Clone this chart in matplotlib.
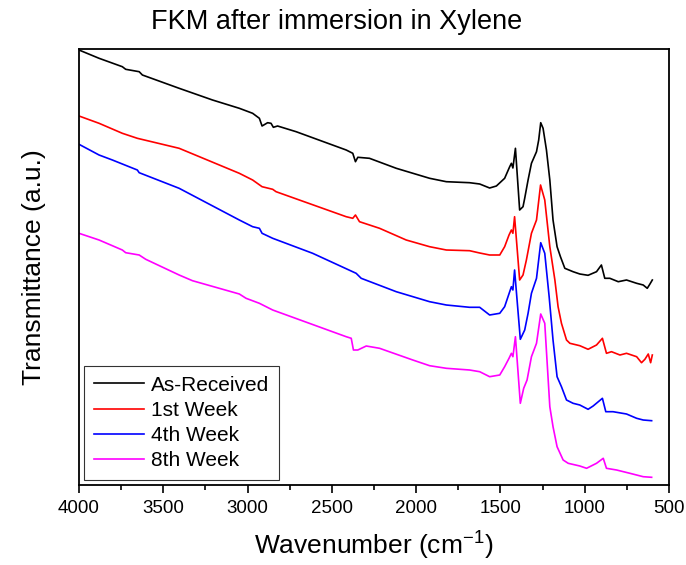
import numpy as np
import matplotlib
matplotlib.use("Agg")
import matplotlib.pyplot as plt
from matplotlib.ticker import MultipleLocator

plt.rcParams['font.family'] = ['Liberation Sans', 'DejaVu Sans']
plt.rcParams['mathtext.default'] = 'regular'

# wavenumber (cm-1) and transmittance (a.u.)
wn_received = [4000, 3881, 3743, 3723, 3643, 3624, 3406, 3208, 3049, 2970, 2930, 2914, 2881, 2861,
               2847, 2822, 2712, 2415, 2376, 2360, 2346, 2277, 2118, 1920, 1821, 1683, 1623, 1564,
               1524, 1475, 1445, 1435, 1426, 1411, 1386, 1366, 1356, 1336, 1316, 1286, 1273, 1261,
               1247, 1227, 1207, 1188, 1164, 1144, 1118, 1069, 1029, 980, 930, 901, 881, 851, 801,
               752, 692, 653, 629, 613, 599]
t_received = [435, 426.7, 418.3, 415.7, 413.3, 410, 396.7, 385, 376.7, 371.7, 366.7, 359, 362.3, 361.7,
              357.7, 359, 353.3, 335, 331.7, 323.3, 327.7, 326.7, 316.7, 306.7, 303.3, 302.3, 301, 297,
              299, 306.7, 318.3, 321.7, 317, 336.7, 275, 278.3, 286.7, 305, 321.7, 333.3, 345, 362.3,
              356.7, 335, 305, 265, 238.3, 228.3, 216.7, 213.3, 211, 209.7, 213.3, 220, 206.7, 206.7,
              203.3, 205, 201.7, 200, 196.7, 201, 205]

wn_week1 = [4000, 3881, 3743, 3654, 3406, 3049, 2970, 2914, 2851, 2831, 2415, 2376, 2360, 2336, 2217,
            2059, 1920, 1821, 1683, 1623, 1564, 1504, 1475, 1449, 1435, 1426, 1416, 1386, 1366, 1346,
            1316, 1286, 1262, 1237, 1207, 1177, 1158, 1138, 1108, 1088, 1029, 980, 930, 895, 871, 841,
            791, 752, 692, 663, 643, 623, 609, 599]
t_week1 = [369, 361.7, 351.7, 346.7, 336.7, 311.7, 305, 298.3, 295.7, 293.3, 268.3, 266.7, 270, 263.3,
           256.7, 245, 238.3, 235, 234.3, 232, 230, 230, 238.3, 250, 255, 251.7, 268.3, 205, 210, 225,
           251.7, 265, 300, 285, 238.3, 205, 178.3, 161.7, 145, 141.7, 139.3, 135.7, 140, 146.7, 131.7,
           133.3, 130, 131.7, 128.3, 122.3, 125.7, 131, 122.3, 130]

wn_week4 = [4000, 3881, 3802, 3703, 3654, 3643, 3406, 3049, 2970, 2930, 2914, 2851, 2614, 2356, 2326,
            2118, 1920, 1821, 1683, 1623, 1564, 1504, 1475, 1445, 1435, 1426, 1416, 1382, 1356, 1336,
            1316, 1286, 1261, 1237, 1211, 1188, 1164, 1138, 1108, 1069, 1029, 980, 950, 895, 875, 832,
            752, 692, 653, 603]
t_week4 = [340.7, 330, 325, 318.3, 315, 312.3, 296.7, 265, 258.3, 256.7, 251.7, 246.7, 231.7, 211.7,
           206.7, 193.3, 183.3, 180, 177.7, 177.7, 170, 171.7, 178.3, 193.3, 198.3, 195, 215, 145.7, 155,
           171.7, 191.7, 206.7, 242.3, 231.7, 188.3, 145, 108.3, 98.3, 85, 81.7, 80, 75.7, 79, 86.7,
           73.3, 73.3, 71, 66.7, 65, 64.3]

wn_week8 = [4000, 3881, 3743, 3723, 3643, 3604, 3406, 3327, 3049, 3009, 2930, 2851, 2415, 2385, 2372,
            2346, 2296, 2217, 2020, 1920, 1821, 1683, 1623, 1564, 1504, 1475, 1449, 1435, 1426, 1411,
            1382, 1362, 1342, 1316, 1286, 1261, 1237, 1207, 1188, 1164, 1128, 1098, 1029, 989, 930, 890,
            871, 811, 732, 653, 603]
t_week8 = [251.7, 245, 235, 232.3, 230, 225.7, 210, 204.3, 191, 186.7, 181.7, 175, 148.3, 146.7, 135,
           135, 139, 136.7, 125, 119.3, 116.7, 115, 113.3, 108.3, 110, 118.3, 126.7, 131.7, 128.3, 148.3,
           81.7, 96.7, 105, 128.3, 141.7, 171, 161.7, 78.3, 58.3, 38.3, 25, 21.7, 19, 16.7, 21.7, 26.7,
           16.7, 15, 11.7, 8.3, 7.7]

series = [
    (wn_received, t_received, 'black', 'As-Received'),
    (wn_week1, t_week1, 'red', '1st Week'),
    (wn_week4, t_week4, 'blue', '4th Week'),
    (wn_week8, t_week8, 'magenta', '8th Week'),
]

fig = plt.figure(figsize=(6.86, 5.65), dpi=100)
ax = fig.add_axes([79 / 686, 1 - 485 / 565, 590 / 686, 436 / 565])

for x, y, c, lab in series:
    ax.plot(x, y, color=c, lw=1.2, label=lab)

ax.set_xlim(4000, 500)
ax.set_ylim(0, 436)
ax.xaxis.set_major_locator(MultipleLocator(500))
ax.xaxis.set_minor_locator(MultipleLocator(250))
ax.tick_params(axis='x', which='major', direction='out', length=6, width=1.2, labelsize=13.5, pad=5)
ax.tick_params(axis='x', which='minor', direction='out', length=3.5, width=1.2)
ax.tick_params(axis='x', top=False)
ax.set_yticks([])
for s in ax.spines.values():
    s.set_linewidth(1.3)

ax.set_xlabel('Wavenumber (cm$^{-1}$)', fontsize=19, labelpad=9)
ax.set_ylabel('Transmittance (a.u.)', fontsize=19, labelpad=24)
fig.text(337 / 686, 1 - 22 / 565, 'FKM after immersion in Xylene', ha='center', va='center', fontsize=19.5)

leg = ax.legend(loc='lower left', fontsize=15, frameon=True, fancybox=False,
                edgecolor='black', handlelength=2.4, handletextpad=0.35, borderaxespad=0.25,
                labelspacing=0.3, borderpad=0.45)
leg.get_frame().set_linewidth(0.8)

fig.savefig('out.png', dpi=100)
